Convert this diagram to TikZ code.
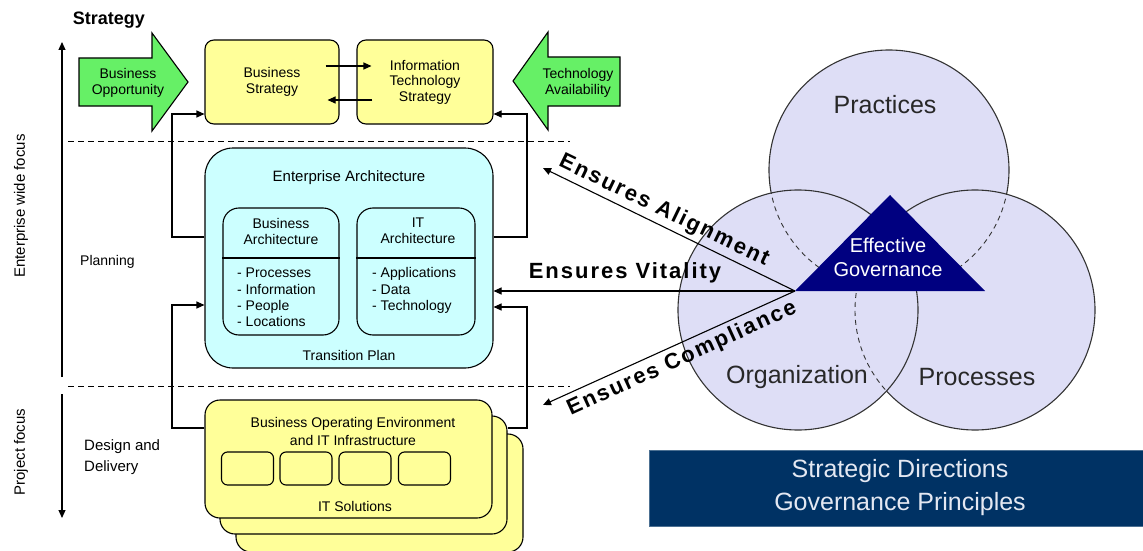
\documentclass[tikz,border=0pt]{standalone}
\usepackage{fontspec}
\setmainfont{Liberation Sans}
\newfontfamily\spacedsans[LetterSpace=9]{Liberation Sans}
\usetikzlibrary{arrows.meta,calc}

\definecolor{boxyellow}{RGB}{255,255,153}
\definecolor{eacyan}{RGB}{204,255,255}
\definecolor{oppgreen}{RGB}{102,240,102}
\definecolor{venn}{RGB}{222,222,246}
\definecolor{govnavy}{RGB}{0,0,128}
\definecolor{banner}{RGB}{0,50,100}
\definecolor{bannertext}{RGB}{228,232,242}
\definecolor{venntext}{RGB}{40,40,40}

\newcommand\setfs[2]{\fontsize{#1}{#2}\selectfont}

\tikzset{
  line/.style={line width=1.1pt},
  arr/.style={line width=1.1pt, -{Triangle[length=8pt,width=7pt]}},
  sep/.style={line width=1pt, dash pattern=on 6pt off 4pt},
  ybox/.style={draw, line width=1.1pt, fill=boxyellow, rounded corners=9pt,
    inner sep=0pt, align=center, font=\setfs{14}{15.5}},
  boebox/.style={draw, line width=1.1pt, fill=boxyellow, rounded corners=15pt,
    minimum width=287pt, minimum height=118pt, inner sep=0pt},
  slot/.style={draw, line width=1.1pt, rounded corners=6pt,
    minimum width=52pt, minimum height=33pt, inner sep=0pt},
  archbox/.style={draw, line width=1.1pt, fill=eacyan, rounded corners=16pt,
    minimum height=127pt, inner sep=0pt},
  greenarrow/.style={draw, line width=1.1pt, fill=oppgreen},
  plain/.style={inner sep=0pt, align=center, font=\setfs{14}{16}},
  listtext/.style={inner sep=0pt, align=left, font=\setfs{14}{16.3}},
  axislabel/.style={inner sep=0pt, rotate=90, font=\setfs{15}{17}},
  ensures/.style={inner sep=0pt, font=\spacedsans\bfseries\setfs{22}{24}},
  venncirc/.style={fill=venn, draw=black!80, line width=1.1pt},
  hidden/.style={draw=black!80, line width=0.9pt, dash pattern=on 5pt off 4pt},
  venntext/.style={inner sep=0pt, text=venntext, font=\setfs{25}{28}},
}

\begin{document}
\begin{tikzpicture}[x=1pt,y=-1pt]
\useasboundingbox (0,0) rectangle (1143,551);

% ---------- left axis: enterprise wide focus / project focus ----------
\node[inner sep=0pt, font=\bfseries\setfs{18}{20}] (strategy) at (109,20) {Strategy};
\coordinate (axtop) at (62,42);
\coordinate (axmid1) at (62,377);
\coordinate (axmid2) at (62,394);
\coordinate (axbot) at (62,518);
\draw[arr] (axmid1) -- (axtop);
\draw[arr] (axmid2) -- (axbot);
\node[axislabel] (ewf) at (21,206) {Enterprise wide focus};
\node[axislabel] (pf) at (21,452) {Project focus};
\node[plain, anchor=west] (planning) at (80,262) {Planning};
\node[plain, anchor=west, align=left, font=\setfs{15}{21}] (dd) at (84,457) {Design and\\Delivery};

% level separators
\draw[sep] (68,141) -- (570,141);
\draw[sep] (68,386) -- (570,386);

% ---------- strategy level ----------
\draw[greenarrow] (79,58) -- (152,58) -- (152,33) -- (188,82) -- (152,131)
  -- (152,106) -- (79,106) -- cycle;
\node[plain, font=\setfs{14}{15.5}] (bizopp) at (128,83) {Business\\Opportunity};
\draw[greenarrow] (620,57) -- (548,57) -- (548,32) -- (513,81) -- (548,130)
  -- (548,106) -- (620,106) -- cycle;
\node[plain, font=\setfs{14}{15.5}] (techavail) at (578,83) {Technology\\Availability};

\node[ybox, minimum width=134pt, minimum height=84pt] (bs) at (272,82) {Business\\Strategy};
\node[ybox, minimum width=136pt, minimum height=84pt] (its) at (425,82) {Information\\Technology\\Strategy};
\draw[arr] ($(bs.east |- 0,66)+(-14,0)$) -- ($(its.west |- 0,66)+(15,0)$);
\draw[arr] ($(its.west |- 0,100)+(16,0)$) -- ($(bs.east |- 0,100)+(-12,0)$);

% ---------- planning level ----------
\node[draw, line width=1.1pt, fill=eacyan, rounded corners=28pt,
  minimum width=288pt, minimum height=220pt] (ea) at (349,258) {};
\node[plain, font=\setfs{15}{17}] (eatitle) at (349,178) {Enterprise Architecture};
\node[archbox, minimum width=116pt] (ba) at (281,271.5) {};
\node[archbox, minimum width=118pt] (ita) at (416,271.5) {};
\draw[line] (ba.west |- 0,258) -- (ba.east |- 0,258);
\draw[line] (ita.west |- 0,258) -- (ita.east |- 0,258);
\node[plain, font=\setfs{14}{16}] (batitle) at (281,231) {Business\\Architecture};
\node[plain, font=\setfs{14}{16}] (itatitle) at (418,231) {IT\\Architecture};
\node[listtext, anchor=west] (balist) at (237,297.5)
  {- Processes\\- Information\\- People\\- Locations};
\node[listtext, anchor=west] (italist) at (372,290.5)
  {- Applications\\- Data\\- Technology};
\node[plain] (tplan) at (349,355) {Transition Plan};

% ---------- design and delivery level ----------
\node[boebox] (boe3) at (379.5,493) {};
\node[boebox] (boe2) at (363.5,475) {};
\node[boebox] (boe1) at (348.5,459) {};
\node[plain, font=\setfs{14}{18}] (boetitle) at (353,431)
  {Business Operating Environment\\and IT Infrastructure};
\node[slot] (s1) at (247.5,468.5) {};
\node[slot] (s2) at (306,468.5) {};
\node[slot] (s3) at (365,468.5) {};
\node[slot] (s4) at (424.5,468.5) {};
\node[plain] (itsol) at (355,506) {IT Solutions};

% ---------- feedback loops ----------
\draw[arr] (ea.west |- 0,237) -| (172,114) -- (bs.west |- 0,114);
\draw[arr] (ea.east |- 0,237) -| (527,114) -- (its.east |- 0,114);
\draw[arr] (boe1.west |- 0,428) -| (172,305) -- (ea.west |- 0,305);
\draw[arr] (boe2.east |- 0,428) -| (527,307) -- (ea.east |- 0,307);

% ---------- governance venn ----------
\path[venncirc] (889,170) circle[radius=120pt];
\path[venncirc] (975,310) circle[radius=120pt];
\path[venncirc] (798,310) circle[radius=120pt];
\begin{scope}
  \clip (798,310) circle[radius=120pt];
  \draw[hidden] (889,170) circle[radius=120pt];
  \draw[hidden] (975,310) circle[radius=120pt];
\end{scope}
\begin{scope}
  \clip (975,310) circle[radius=120pt];
  \draw[hidden] (889,170) circle[radius=120pt];
\end{scope}
\node[venntext] (practices) at (885,105) {Practices};
\node[venntext] (organization) at (797,377) {Organization};
\node[venntext] (processes) at (977,377) {Processes};

\coordinate (govL) at (795,291);
\coordinate (govR) at (985,291);
\coordinate (govT) at (890,195);
\fill[govnavy] (govL) -- (govT) -- (govR) -- cycle;
\node[inner sep=0pt, align=center, text=white, font=\setfs{20}{24}] (gov) at (888,257)
  {Effective\\Governance};

% ---------- ensures connectors ----------
\coordinate (alignEnd) at (543,168);
\coordinate (complEnd) at (543,405);
\draw[arr] (govL) -- (alignEnd);
\draw[arr] (govL) -- (ea.east |- govL);
\draw[arr] (govL) -- (complEnd);
\node[ensures, rotate=-25.8] (alignlbl) at (664,211) {Ensures Alignment};
\node[ensures] (vitallbl) at (625,273) {Ensures Vitality};
\node[ensures, rotate=24.5] (compllbl) at (682,359) {Ensures Compliance};

% ---------- banner ----------
\node[fill=banner, draw=banner!70!white, minimum width=494pt, minimum height=76pt,
  inner sep=0pt] (bannerbox) at (896,488) {};
\node[inner sep=0pt, align=center, text=bannertext, font=\setfs{25}{33}] (bannertxt)
  at (900,488) {Strategic Directions\\Governance Principles};
\end{tikzpicture}
\end{document}
